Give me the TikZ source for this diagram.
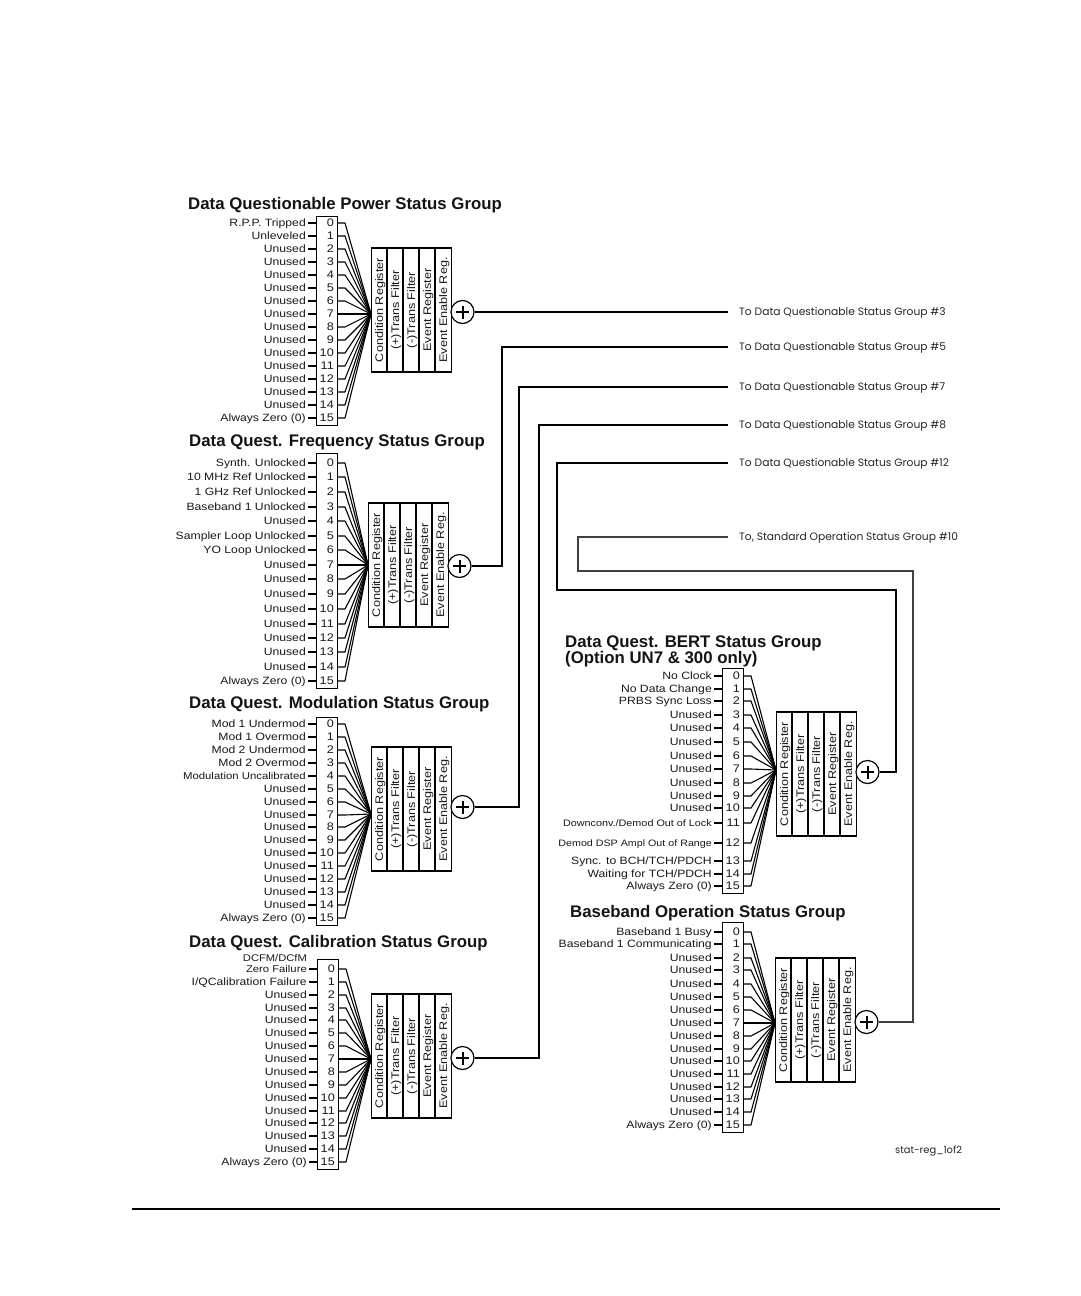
\documentclass[tikz,border=0pt]{standalone}
\usepackage{fontspec}
\setmainfont{Liberation Sans}
\newfontfamily\lblf[FakeStretch=1.15]{Liberation Sans}
\newfontfamily\gothf{Poppins}
\usetikzlibrary{calc}
\newcommand\slsh{/}
\tikzset{
  ln/.style={line width=1.2pt, black},
  tick/.style={line width=1.1pt, black},
  fan/.style={line width=1.1pt, black, line join=round},
  plusln/.style={line width=2pt, black},
  lbl/.style={inner sep=0pt, anchor=east, text=black!90, font=\lblf\fontsize{10.6}{12}\selectfont, text height=7.5pt, text depth=0pt},
  num/.style={lbl, font=\lblf\fontsize{11}{12}\selectfont},
  ttl/.style={inner sep=0pt, anchor=base west, text=black!92, font=\bfseries\fontsize{16.8}{14.5}\selectfont},
  regtxt/.style={inner sep=0pt, rotate=90, text=black!90, font=\lblf\fontsize{11}{12}\selectfont, text height=8pt, text depth=0pt},
  tolbl/.style={inner sep=0pt, anchor=west, text=black!85, font=\gothf\fontsize{10.7}{12}\selectfont, text height=7.5pt, text depth=0pt},
  bitbox/.style={draw, line width=1.2pt, inner sep=0pt, anchor=north west},
  regbox/.style={draw, line width=1.2pt, inner sep=0pt, anchor=west, minimum width=80pt, minimum height=124pt},
  sumnode/.style={circle, draw, line width=1.2pt, minimum size=23pt, inner sep=0pt, fill=white},
}
\newcommand\drawgroup[9]{%
  \pgfmathsetmacro\grpbh{#4-#3}%
  \node[bitbox, minimum width=21pt, minimum height=\grpbh pt] (#1box) at (#2,#3) {};
  \coordinate (#1conv) at (#5,#6);
  \foreach \i/\y/\t in {#9}{%
    \coordinate (#1a\i) at (#2,\y);
    \coordinate (#1b\i) at (#2+21,\y);
    \node[num] (#1n\i) at (#2+18,\y) {\i};
    \node[lbl] (#1t\i) at (#2-10,\y) {\t};
    \draw[tick] ([xshift=2pt]#1t\i.east) -- (#1a\i);
    \draw[fan] (#1b\i) -- ++(8,0) -- (#1conv);
  }
  \node[regbox] (#1reg) at (#5,#7) {};
  \foreach \k/\rt in {1/Condition Register,2/(+)Trans Filter,3/(-)Trans Filter,4/Event Register,5/Event Enable Reg.}{%
    \node[regtxt] (#1c\k) at ($(#1reg.west)+(\k*16-8,0)$) {\rt};
  }
  \foreach \k in {1,...,4}{%
    \draw[ln] ($(#1reg.north west)+(\k*16,0)$) -- ($(#1reg.south west)+(\k*16,0)$);
  }
  \node[sumnode] (#1plus) at (#5+80+11.5,#8) {};
  \draw[plusln] ([xshift=-6.5pt]#1plus.center) -- ([xshift=6.5pt]#1plus.center);
  \draw[plusln] ([yshift=-6.5pt]#1plus.center) -- ([yshift=6.5pt]#1plus.center);
}
\begin{document}
\begin{tikzpicture}[x=1pt,y=-1pt]
\fill[white] (0,0) rectangle (1080,1296);
\useasboundingbox (0,0) rectangle (1080,1296);

% titles
\node[ttl] (tp) at (188,209) {Data Questionable Power Status Group};
\node[ttl] (tf) at (189,446) {Data Quest. Frequency Status Group};
\node[ttl] (tm) at (189,708) {Data Quest. Modulation Status Group};
\node[ttl] (tc) at (189,947) {Data Quest. Calibration Status Group};
\node[ttl] (tb1) at (565,647) {Data Quest. BERT Status Group};
\node[ttl] (tb2) at (565,663) {(Option UN7 \& 300 only)};
\node[ttl] (to) at (570,917) {Baseband Operation Status Group};

% groups
\drawgroup{p}{316}{216}{425}{371}{314}{310}{312}{0/223/R.P.P. Tripped, 1/236/Unleveled, 2/249/Unused, 3/262/Unused, 4/275/Unused, 5/288/Unused, 6/301/Unused, 7/314/Unused, 8/327/Unused, 9/340/Unused, 10/353/Unused, 11/366/Unused, 12/379/Unused, 13/392/Unused, 14/405/Unused, 15/418/Always Zero (0)}

\drawgroup{f}{316}{453}{688}{368}{565}{565}{566}{0/463/Synth. Unlocked, 1/477/10 MHz Ref Unlocked, 2/492/1 GHz Ref Unlocked, 3/507/Baseband 1 Unlocked, 4/521/Unused, 5/536/Sampler Loop Unlocked, 6/550/YO Loop Unlocked, 7/565/Unused, 8/579/Unused, 9/594/Unused, 10/609/Unused, 11/624/Unused, 12/638/Unused, 13/652/Unused, 14/667/Unused, 15/681/Always Zero (0)}

\drawgroup{m}{316}{717}{925}{371}{814}{809}{807}{0/724/Mod 1 Undermod, 1/737/Mod 1 Overmod, 2/750/Mod 2 Undermod, 3/763/Mod 2 Overmod, 4/776/{\fontsize{9.9}{11}\selectfont Modulation Uncalibrated}, 5/789/Unused, 6/802/Unused, 7/815/Unused, 8/827/Unused, 9/840/Unused, 10/853/Unused, 11/866/Unused, 12/879/Unused, 13/892/Unused, 14/905/Unused, 15/918/Always Zero (0)}

\drawgroup{c}{317}{959}{1169}{371}{1059}{1056}{1058}{0/969/{\fontsize{9.8}{11}\selectfont Zero Failure}, 1/982/I\slsh QCalibration Failure, 2/995/Unused, 3/1008/Unused, 4/1020/Unused, 5/1033/Unused, 6/1046/Unused, 7/1059/Unused, 8/1072/Unused, 9/1085/Unused, 10/1098/Unused, 11/1111/Unused, 12/1123/Unused, 13/1136/Unused, 14/1149/Unused, 15/1162/Always Zero (0)}
\node[lbl, font=\lblf\fontsize{9.7}{11}\selectfont] (cdcfm) at (307,958) {DCFM\slsh DCfM};

\drawgroup{b}{722}{668}{893}{776}{770}{774}{772}{0/676/No Clock, 1/689/No Data Change, 2/701/PRBS Sync Loss, 3/715/Unused, 4/728/Unused, 5/742/Unused, 6/756/Unused, 7/769/Unused, 8/783/Unused, 9/796/Unused, 10/808/Unused, 11/823/{\fontsize{9.4}{11}\selectfont Downconv.\slsh Demod Out of Lock}, 12/843/{\fontsize{9.3}{11}\selectfont Demod DSP Ampl Out of Range}, 13/861/Sync. to BCH\slsh TCH\slsh PDCH, 14/874/Waiting for TCH\slsh PDCH, 15/886/Always Zero (0)}

\drawgroup{o}{722}{922}{1132}{775}{1023}{1020}{1022}{0/932/Baseband 1 Busy, 1/944/Baseband 1 Communicating, 2/958/Unused, 3/970/Unused, 4/984/Unused, 5/997/Unused, 6/1010/Unused, 7/1023/Unused, 8/1036/Unused, 9/1049/Unused, 10/1061/Unused, 11/1074/Unused, 12/1087/Unused, 13/1099/Unused, 14/1112/Unused, 15/1125/Always Zero (0)}

% destination labels
\node[tolbl] (r3) at (739,312) {To Data Questionable Status Group \#3};
\node[tolbl] (r5) at (739,347) {To Data Questionable Status Group \#5};
\node[tolbl] (r7) at (739,387) {To Data Questionable Status Group \#7};
\node[tolbl] (r8) at (739,425) {To Data Questionable Status Group \#8};
\node[tolbl] (r12) at (739,463) {To Data Questionable Status Group \#12};
\node[tolbl] (r10) at (739,537) {To, Standard Operation Status Group \#10};

\coordinate (e3) at (728,312);
\coordinate (e5) at (728,347);
\coordinate (e7) at (728,387);
\coordinate (e8) at (728,425);
\coordinate (e12) at (728,463);
\coordinate (e10) at (728,537);
\coordinate (k5) at (502,347);
\coordinate (k7) at (519,387);
\coordinate (k8) at (539,425);
\coordinate (k12a) at (896,590);
\coordinate (k12b) at (557,463);
\coordinate (k10a) at (913,571);
\coordinate (k10b) at (578,537);

\draw[ln] (pplus.east) -- (e3);
\draw[ln] (fplus.east) -| (k5) -- (e5);
\draw[ln] (mplus.east) -| (k7) -- (e7);
\draw[ln] (cplus.east) -| (k8) -- (e8);
\draw[ln] (bplus.east) -| (k12a) -| (k12b) -- (e12);
\draw[ln, black!75] (oplus.east) -| (k10a) -| (k10b) -- (e10);

\node[tolbl, font=\gothf\fontsize{9.9}{11}\selectfont] (sr) at (895,1150) {stat-reg\_1of2};

\coordinate (rl) at (132,1209);
\coordinate (rr) at (1000,1209);
\draw[line width=2pt] (rl) -- (rr);
\end{tikzpicture}
\end{document}
